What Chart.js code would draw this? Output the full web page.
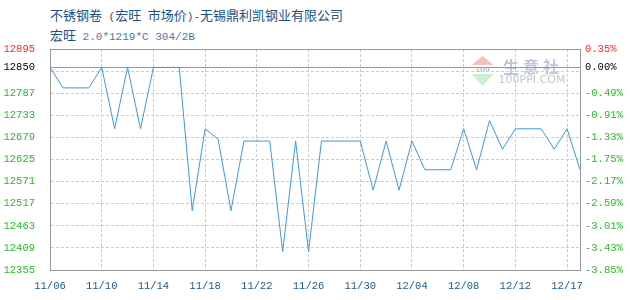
<!DOCTYPE html>
<html>
<head>
<meta charset="utf-8">
<script src="https://cdn.jsdelivr.net/npm/chart.js@4.4.1/dist/chart.umd.min.js"></script>
<style>
  body { margin: 0; background: #fff; }
  #wrap { position: relative; width: 630px; height: 300px; }
  #chart { position: absolute; left: 0; top: 0; }
  .t1, .t2 { position: absolute; left: 50px; font-family: "Noto Sans CJK SC", sans-serif; font-size: 13px; white-space: pre; line-height: 16px; }
  .t1 { top: 7px; color: #1e5283; }
  .t2 { top: 27px; color: #4a7aa8; }
  .t2 b { font-weight: normal; color: #1e5283; }
  .m { font-family: "Liberation Mono", monospace; font-size: 11px; }
</style>
</head>
<body>
<div id="wrap">
  <div class="t1">不锈钢卷<span class="m"> (</span>宏旺<span class="m"> </span>市场价<span class="m">)-</span>无锡鼎利凯钢业有限公司</div>
  <div class="t2"><b>宏旺</b><span class="m"> 2.0*1219*C 304/2B</span></div>
  <canvas id="chart" width="630" height="300"></canvas>
</div>
<script>
// datos del gráfico
var dates = ['11/06','11/07','11/08','11/09','11/10','11/11','11/12','11/13','11/14','11/15',
             '11/16','11/17','11/18','11/19','11/20','11/21','11/22','11/23','11/24','11/25',
             '11/26','11/27','11/28','11/29','11/30','12/01','12/02','12/03','12/04','12/05',
             '12/06','12/07','12/08','12/09','12/10','12/11','12/12','12/13','12/14','12/16',
             '12/17','12/18'];
var prices = [12850, 12800, 12800, 12800, 12850, 12700, 12850, 12700, 12850, 12850,
              12850, 12500, 12700, 12675, 12500, 12670, 12670, 12670, 12400, 12670,
              12400, 12670, 12670, 12670, 12670, 12550, 12670, 12550, 12670, 12600,
              12600, 12600, 12700, 12600, 12720, 12650, 12700, 12700, 12700, 12650,
              12700, 12600];
var basePrice = 12850;
var yTicks = [12355, 12409, 12463, 12517, 12571, 12625, 12679, 12733, 12787, 12841, 12850, 12895];
var hiddenTick = 12841;
var yMin = 12355, yMax = 12895;

var RED = '#ff2a2a', GREEN = '#2db82d', BLACK = '#000000';

function tickColor(ctx) {
    if (!ctx.tick) return GREEN;
    if (ctx.tick.value === yMax) return RED;
    if (ctx.tick.value === basePrice) return BLACK;
    return GREEN;
}

function setYTicks(scale) {
    scale.ticks = yTicks.map(function(v) { return { value: v }; });
}

// marca de agua
var watermark = {
    id: 'watermark',
    beforeDraw: function(chart) {
        var c = chart.ctx;
        c.save();
        c.fillStyle = 'rgba(240,150,150,0.6)';
        c.beginPath();
        c.moveTo(482.5, 56); c.lineTo(493.5, 65); c.lineTo(471.5, 65);
        c.closePath(); c.fill();
        c.fillStyle = 'rgba(175,230,185,0.65)';
        c.beginPath();
        c.moveTo(471.5, 74); c.lineTo(493.5, 74); c.lineTo(482.5, 86);
        c.closePath(); c.fill();
        c.fillStyle = '#b8c2d8';
        c.font = 'bold 7px "DejaVu Sans"';
        c.textAlign = 'center';
        c.textBaseline = 'middle';
        c.fillText('100', 482.5, 70);
        c.font = 'bold 16px "Noto Sans CJK SC"';
        c.fillStyle = '#bcc6dc';
        c.fillText('生', 511, 67);
        c.fillText('意', 531, 67);
        c.fillText('社', 551, 67);
        c.font = '11px "DejaVu Sans"';
        c.fillStyle = '#c6c6c6';
        c.fillText('100PPI.COM', 532, 80.5);
        c.restore();
    }
};

var monoFont = { family: '"Liberation Mono", monospace', size: 10.5 };

new Chart(document.getElementById('chart').getContext('2d'), {
    type: 'line',
    data: {
        labels: dates,
        datasets: [{
            data: prices,
            borderColor: '#3d9ad8',
            borderWidth: 1,
            pointRadius: 0,
            tension: 0,
            fill: false
        }]
    },
    plugins: [watermark],
    options: {
        responsive: false,
        animation: false,
        layout: { padding: { top: 49, left: 0, right: 0, bottom: 0 } },
        plugins: { legend: { display: false }, tooltip: { enabled: false } },
        scales: {
            x: {
                afterBuildTicks: function(scale) {
                    scale.ticks = scale.ticks.filter(function(t, i) { return i % 4 === 0; });
                },
                afterFit: function(scale) { scale.height = 30; },
                ticks: { autoSkip: false, maxRotation: 0, padding: 10, color: '#1a5a8a', font: monoFont },
                grid: { color: '#cccccc', drawTicks: false },
                border: { color: '#999999', width: 1, dash: [3, 2] }
            },
            y: {
                position: 'left',
                min: yMin, max: yMax,
                afterBuildTicks: setYTicks,
                afterFit: function(scale) { scale.width = 50; },
                ticks: {
                    autoSkip: false, padding: 15, color: tickColor, font: monoFont,
                    callback: function(v) { return v === hiddenTick ? '' : String(v); }
                },
                grid: {
                    drawTicks: false,
                    color: function(ctx) {
                        if (ctx.tick && (ctx.tick.value === basePrice || ctx.tick.value === yMax)) return '#999999';
                        return '#cccccc';
                    }
                },
                border: {
                    color: '#999999', width: 1,
                    dash: function(ctx) {
                        if (ctx.tick && (ctx.tick.value === basePrice || ctx.tick.value === yMax)) return [];
                        return [3, 2];
                    }
                }
            },
            y2: {
                position: 'right',
                min: yMin, max: yMax,
                afterBuildTicks: setYTicks,
                afterFit: function(scale) { scale.width = 50; },
                ticks: {
                    autoSkip: false, padding: 5, color: tickColor, font: monoFont,
                    callback: function(v) {
                        if (v === hiddenTick) return '';
                        return ((v - basePrice) / basePrice * 100).toFixed(2) + '%';
                    }
                },
                grid: { drawOnChartArea: false, drawTicks: false },
                border: { color: '#999999', width: 1 }
            }
        }
    }
});
</script>
</body>
</html>
